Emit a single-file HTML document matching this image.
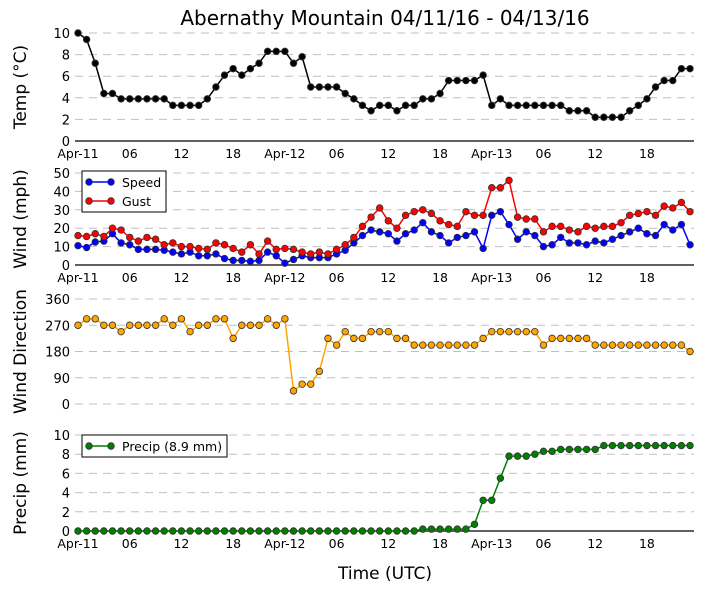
<!DOCTYPE html>
<html><head><meta charset="utf-8"><style>
body{margin:0;background:#fff}
svg{display:block;font-family:"DejaVu Sans","Liberation Sans",sans-serif}
</style></head><body>
<svg id="chart" width="705" height="593" viewBox="0 0 705 593" xmlns="http://www.w3.org/2000/svg">
<rect width="705" height="593" fill="#fff"/>
<text x="385" y="25" font-size="20" text-anchor="middle">Abernathy Mountain 04/11/16 - 04/13/16</text>
<text x="385" y="579" font-size="17" text-anchor="middle">Time (UTC)</text>
<g id="plots"></g>
</svg>
<script>
const xTickLabels = ["Apr-11","06","12","18","Apr-12","06","12","18","Apr-13","06","12","18"];
const temp = [10,9.4,7.2,4.4,4.4,3.9,3.9,3.9,3.9,3.9,3.9,3.3,3.3,3.3,3.3,3.9,5.0,6.1,6.7,6.1,6.7,7.2,8.3,8.3,8.3,7.2,7.8,5,5,5,5,4.4,3.9,3.3,2.8,3.3,3.3,2.8,3.3,3.3,3.9,3.9,4.4,5.6,5.6,5.6,5.6,6.1,3.3,3.9,3.3,3.3,3.3,3.3,3.3,3.3,3.3,2.8,2.8,2.8,2.2,2.2,2.2,2.2,2.8,3.3,3.9,5,5.6,5.6,6.7,6.7];
const speed = [10.5,9.5,12.5,13,17,12,11,8.5,8.5,8.5,8,7,6,7,5,5,6,3.5,2.5,2.5,2,2.5,7,5,1,3,5,4,4,4,6,8,12,16,19,18,17,13,17,19,23,18,16,12,15,16,18,9,27,29,22,14,18,16,10,11,15,12,12,11,13,12,14,16,18,20,17,16,22,19,22,11];
const gust = [16,15.5,17,15.5,20,19,15,13,15,14,11,12,10,10,9,8.5,12,11,9,7,11,6,13,8.5,9,8.5,7,6,7,6,8.5,11,15,21,26,31,24,20,27,29,30,28,24,22,21,29,27,27,42,42,46,26,25,25,18,21,21,19,18,21,20,21,21,23,27,28,29,27,32,31,34,29];
const dir = [270,292,292,270,270,248,270,270,270,270,292,270,292,248,270,270,292,292,225,270,270,270,292,270,292,45,68,68,112,225,202,248,225,225,248,248,248,225,225,202,202,202,202,202,202,202,202,225,248,248,248,248,248,248,202,225,225,225,225,225,202,202,202,202,202,202,202,202,202,202,202,180];
const precip = [0,0,0,0,0,0,0,0,0,0,0,0,0,0,0,0,0,0,0,0,0,0,0,0,0,0,0,0,0,0,0,0,0,0,0,0,0,0,0,0,0.2,0.2,0.2,0.2,0.2,0.2,0.7,3.2,3.2,5.5,7.8,7.8,7.8,8.0,8.3,8.3,8.5,8.5,8.5,8.5,8.5,8.9,8.9,8.9,8.9,8.9,8.9,8.9,8.9,8.9,8.9,8.9];
const tempTicks = [0,2,4,6,8,10];
const windTicks = [0,10,20,30,40,50];
const dirTicks = [0,90,180,270,360];
const precipTicks = [0,2,4,6,8,10];

const NS="http://www.w3.org/2000/svg";
const root=document.getElementById('plots');
const X0=78, DX=8.62, XL=75, XR=694;
function xs(i){return X0+i*DX;}
function mk(tag,attrs,parent){const e=document.createElementNS(NS,tag);for(const k in attrs)e.setAttribute(k,attrs[k]);(parent||root).appendChild(e);return e;}

function panel(name,yTop,yBot,vmin,vmax,ticks,label,showX,solidAxis){
  const g=mk('g',{});
  
  
  const ys=v=>yBot-(v-vmin)/(vmax-vmin)*(yBot-yTop);
  ticks.forEach(t=>{
    const y=ys(t);
    if(!(solidAxis&&t===vmin)){
      const l=mk('line',{x1:XL,x2:XR,y1:y,y2:y,stroke:'#c0c0c0','stroke-dasharray':'8,6','stroke-width':1},g);
      
      
    }
    const tx=mk('text',{x:70,y:y+5,'font-size':13,'text-anchor':'end'},g);
    tx.textContent=t;
    
    
  });
  if(solidAxis){
    const a=mk('line',{x1:XL,x2:XR,y1:yBot,y2:yBot,stroke:'#000','stroke-width':1.2},g);
    
    
  }
  if(showX){
    xTickLabels.forEach((s,k)=>{
      const tx=mk('text',{x:xs(k*6),y:yBot+17,'font-size':12.5,'text-anchor':'middle'},g);
      tx.textContent=s;
      
      
    });
  }
  const cy=(yTop+yBot)/2;
  const yl=mk('text',{x:0,y:0,'font-size':17,'text-anchor':'middle',transform:`translate(26,${cy}) rotate(-90)`},g);
  yl.textContent=label;
  
  
  return {g,ys};
}
function series(p,data,color,name){
  const pts=data.map((v,i)=>xs(i)+','+p.ys(v)).join(' ');
  const pl=mk('polyline',{points:pts,fill:'none',stroke:color,'stroke-width':1.5},p.g);
  
  
  data.forEach((v,i)=>{
    const c=mk('circle',{cx:xs(i),cy:p.ys(v),r:3.3,fill:color,stroke:'#333','stroke-width':0.8},p.g);
    
    
  });
}
function legend(p,x,y,w,h,items,name){
  const g=mk('g',{},p.g);
  
  
  mk('rect',{x:x,y:y,width:w,height:h,fill:'#fff',stroke:'#000','stroke-width':1},g);
  items.forEach((it,k)=>{
    const yy=y+11+k*19;
    mk('line',{x1:x+7,x2:x+29,y1:yy,y2:yy,stroke:it[1],'stroke-width':1.5},g);
    mk('circle',{cx:x+7,cy:yy,r:3.3,fill:it[1],stroke:'#333','stroke-width':0.8},g);
    mk('circle',{cx:x+29,cy:yy,r:3.3,fill:it[1],stroke:'#333','stroke-width':0.8},g);
    const t=mk('text',{x:x+40,y:yy+5,'font-size':12.5},g);
    t.textContent=it[0];
    
    
  });
}
const p1=panel('temp',33,141,0,10,tempTicks,'Temp (°C)',true,true);
series(p1,temp,'#000000','temp');
const p2=panel('wind',173,265,0,50,windTicks,'Wind (mph)',true,true);
series(p2,speed,'#0000ff','speed');
series(p2,gust,'#ff0000','gust');
legend(p2,82,171,84,41,[['Speed','#0000ff'],['Gust','#ff0000']],'wind-legend');
const p3=panel('direction',299,404,0,360,dirTicks,'Wind Direction',false,false);
series(p3,dir,'#ffa500','direction');
const p4=panel('precip',435,531,0,10,precipTicks,'Precip (mm)',true,true);
series(p4,precip,'#007f00','precip');
legend(p4,82,435,145,22,[['Precip (8.9 mm)','#007f00']],'precip-legend');
</script>
</body></html>
